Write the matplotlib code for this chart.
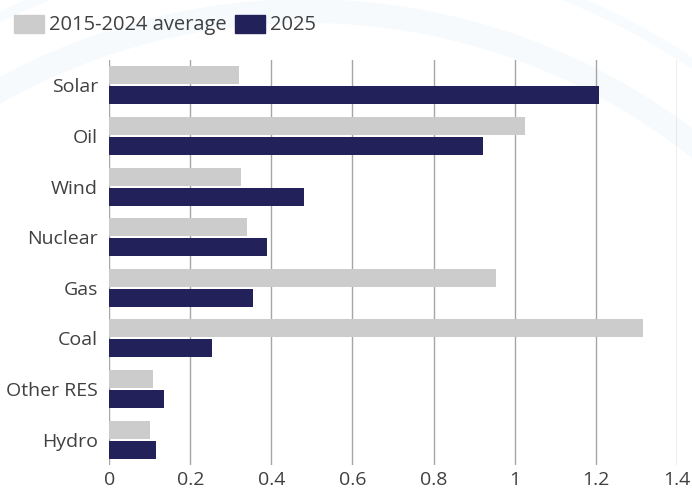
import numpy as np
import matplotlib
matplotlib.use('Agg')
import matplotlib.pyplot as plt
from matplotlib.patches import Arc, Patch

# data
categories = ['Solar', 'Oil', 'Wind', 'Nuclear', 'Gas', 'Coal', 'Other RES', 'Hydro']
avg_2015_2024 = [0.320, 1.025, 0.325, 0.340, 0.954, 1.316, 0.108, 0.100]
val_2025 = [1.208, 0.922, 0.480, 0.389, 0.354, 0.254, 0.135, 0.115]
xticks = [0, 0.2, 0.4, 0.6, 0.8, 1, 1.2, 1.4]
xtick_labels = ['0', '0.2', '0.4', '0.6', '0.8', '1', '1.2', '1.4']

gray = '#cccccc'
navy = '#23215a'
text_col = '#404040'

plt.rcParams['font.family'] = ['Open Sans', 'DejaVu Sans']

W, H = 692, 492
fig = plt.figure(figsize=(W / 100, H / 100), dpi=100)

# faint decorative arcs in the background
bg = fig.add_axes([0, 0, 1, 1], zorder=-5)
bg.set_xlim(0, W)
bg.set_ylim(H, 0)
bg.axis('off')
bg.add_patch(Arc((306, 641), 2 * 630, 2 * 630, theta1=180, theta2=360,
                 color='#f6fafd', lw=17))
bg.add_patch(Arc((306, 641), 2 * 695, 2 * 695, theta1=180, theta2=360,
                 color='#f7fbfe', lw=7))

left, right, top, bottom = 109.3, 676.7, 60, 465
ax = fig.add_axes([left / W, 1 - bottom / H, (right - left) / W, (bottom - top) / H])
ax.patch.set_alpha(0)

y = np.arange(len(categories))
h = 0.355
off = 0.197
ax.barh(y - off, avg_2015_2024, height=h, color=gray, zorder=2)
ax.barh(y + off, val_2025, height=h, color=navy, zorder=2)

ax.set_xlim(0, 1.4)
ax.set_ylim(len(categories) - 0.5, -0.5)
ax.set_xticks(xticks)
ax.set_xticklabels(xtick_labels)
ax.set_yticks(y)
ax.set_yticklabels(categories)
ax.tick_params(axis='both', length=0, labelsize=14, labelcolor=text_col)
ax.tick_params(axis='x', pad=4)
ax.tick_params(axis='y', pad=8)
ax.grid(axis='x', color='#a6a6a6', lw=1, zorder=1)
for s in ax.spines.values():
    s.set_visible(False)

handles = [Patch(color=gray, label='2015-2024 average'), Patch(color=navy, label='2025')]
fig.legend(handles=handles, loc='center left', bbox_to_anchor=(14 / W, 1 - 25 / H),
           ncol=2, frameon=False, fontsize=14.5, labelcolor=text_col,
           handlelength=1.5, handleheight=1.0, handletextpad=0.25,
           columnspacing=0.4, borderpad=0, borderaxespad=0)

fig.savefig('out.png', dpi=100)
